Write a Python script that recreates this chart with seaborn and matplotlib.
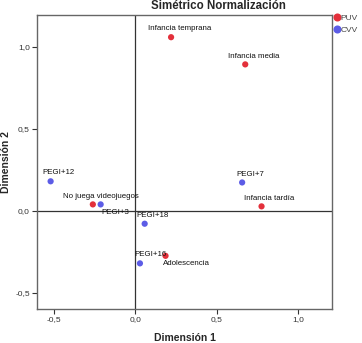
import seaborn as sns
import matplotlib.pyplot as plt
import pandas as pd

# Data
puv_labels = ['Infancia temprana', 'Infancia media', 'No juega videojuegos', 'Infancia tardía', 'Adolescencia']
puv_x = [0.22, 0.675, -0.26, 0.775, 0.186]
puv_y = [1.06, 0.894, 0.039, 0.027, -0.275]

cvv_labels = ['PEGI+12', 'PEGI+7', 'PEGI+3', 'PEGI+18', 'PEGI+16']
cvv_x = [-0.519, 0.656, -0.212, 0.058, 0.029]
cvv_y = [0.180, 0.173, 0.039, -0.079, -0.321]

df = pd.DataFrame({
    'x': puv_x + cvv_x,
    'y': puv_y + cvv_y,
    'label': puv_labels + cvv_labels,
    'grupo': ['PUV'] * len(puv_x) + ['CVV'] * len(cvv_x),
})

sns.set_style('white')
plt.rcParams['font.family'] = ['Liberation Sans', 'DejaVu Sans']

fig = plt.figure(figsize=(3.62, 3.43), dpi=100)
ax = fig.add_axes([0.102, 0.099, 0.815, 0.857])

palette = {'PUV': '#e3303b', 'CVV': '#5c5ce6'}
sns.scatterplot(data=df, x='x', y='y', hue='grupo', palette=palette,
                s=20, edgecolor='none', ax=ax, zorder=3)

ax.axhline(0, color='#333333', lw=0.9, zorder=1)
ax.axvline(0, color='#333333', lw=0.9, zorder=1)

# label offsets in points (dx, dy, ha)
offsets = {
    'PEGI+3': (0.7, -5.8, 'left'),
    'Adolescencia': (-1.7, -5.5, 'left'),
    'PEGI+16': (-4.3, 6.2, 'left'),
}
for _, r in df.iterrows():
    dx, dy, ha = offsets.get(r['label'], (5.8, 6.0, 'center'))
    ax.annotate(r['label'], (r['x'], r['y']), xytext=(dx, dy),
                textcoords='offset points', ha=ha, va='center',
                fontsize=5.7, color='#111111')

ax.set_xlim(-0.603, 1.207)
ax.set_ylim(-0.60, 1.195)
ax.set_xticks([-0.5, 0.0, 0.5, 1.0])
ax.set_yticks([-0.5, 0.0, 0.5, 1.0])
ax.set_xticklabels(['-0,5', '0,0', '0,5', '1,0'])
ax.set_yticklabels(['-0,5', '0,0', '0,5', '1,0'])
ax.tick_params(axis='both', labelsize=6, length=3.6, width=0.8, direction='out',
               bottom=True, left=True, colors='#333333', pad=1.5)

for sp in ax.spines.values():
    sp.set_color('#666666')
    sp.set_linewidth(1.0)

ax.set_xlabel('Dimensión 1', fontsize=7.5, fontweight='bold', labelpad=7)
ax.set_ylabel('Dimensión 2', fontsize=7.5, fontweight='bold', labelpad=3)
ax.set_title('Simétrico Normalización', fontsize=8.3, fontweight='bold',
             x=0.614, pad=4.5)

leg = ax.legend(loc='upper left', bbox_to_anchor=(0.985, 1.02), frameon=False,
                fontsize=6, handletextpad=0.0, markerscale=1.3,
                borderaxespad=0.2, labelspacing=0.5, handlelength=1.0)
for t in leg.get_texts():
    t.set_color('#444444')

plt.savefig('out.png', dpi=100)
